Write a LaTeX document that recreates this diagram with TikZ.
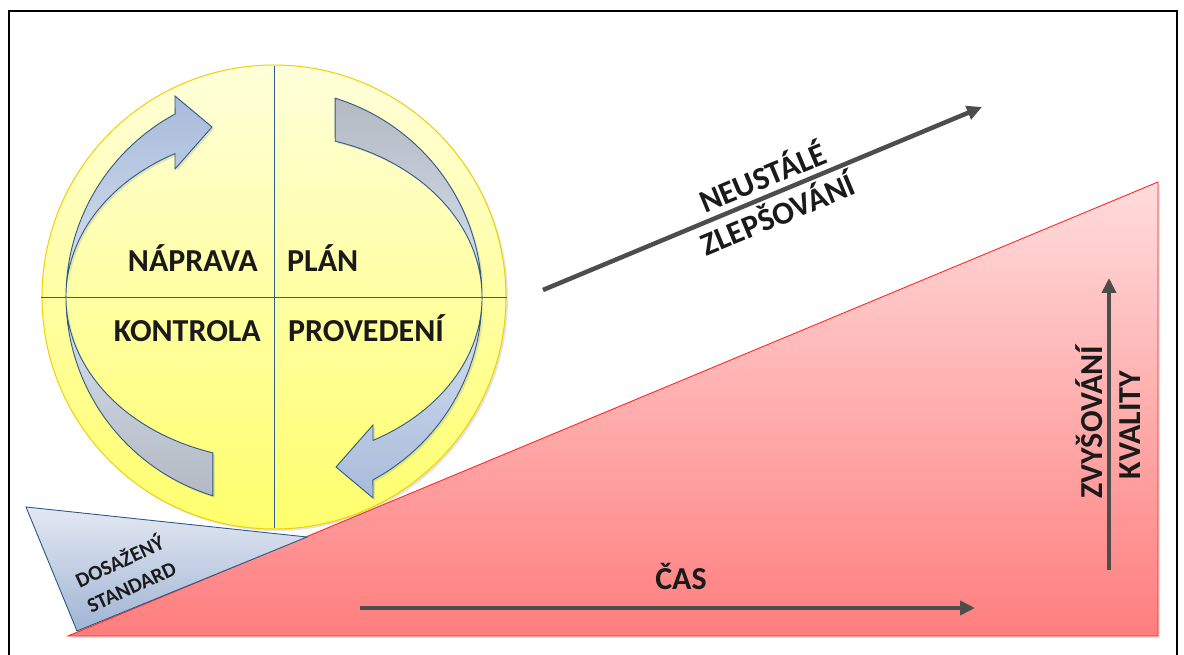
\documentclass[tikz,border=0pt]{standalone}
\usepackage{fontspec}
\setmainfont{Carlito}
\usepackage{tikz}
\usetikzlibrary{arrows.meta,shadows}
\definecolor{ctext}{HTML}{1A1A1A}
\definecolor{cgray}{HTML}{4D4D4D}
\definecolor{cline}{HTML}{2E5E8E}
\definecolor{cyellowtop}{HTML}{FFFFDA}
\definecolor{cyellowbot}{HTML}{FFFF6C}
\definecolor{cyellowedge}{HTML}{F0D000}
\definecolor{credtop}{HTML}{FFDCDC}
\definecolor{credbot}{HTML}{FF7E7E}
\definecolor{crededge}{HTML}{FF2828}
\definecolor{cblue}{HTML}{A8BBDA}
\definecolor{cbluelight}{HTML}{D8E2F1}
\definecolor{cgrayarrow}{HTML}{B4B9C2}
\definecolor{cbluetop}{HTML}{E4E9F3}
\definecolor{cbluebot}{HTML}{A0B4D4}
\definecolor{cblueedge}{HTML}{2C5A85}

\begin{document}
\begin{tikzpicture}[x=1pt,y=1pt,>={Triangle[length=15pt,width=14pt]},
  big label/.style={font=\fontsize{32}{39}\selectfont\bfseries,text=ctext,inner sep=0pt},
  small label/.style={font=\fontsize{21}{28}\selectfont\bfseries,text=ctext,inner sep=0pt,align=center},
  trend arrow/.style={->,line width=4.5pt,draw=cgray},
  cycle arrow/.style={draw=cblueedge,line width=0.9pt},
  soft shadow/.style={drop shadow={opacity=0.22,shadow xshift=2pt,shadow yshift=-2pt}}]
  \useasboundingbox (0,0) rectangle (1184,654);
  % frame
  \draw[line width=1.3pt] (9,-5) -- (9,643) -- (1177,643) -- (1177,-5);

  % rising slope
  \path[soft shadow,top color=credtop,bottom color=credbot,draw=crededge,line width=0.9pt]
    (68,18) -- (1158,18) -- (1158,472) -- cycle;

  % the wheel
  \coordinate (c) at (274,357);
  \path[soft shadow,top color=cyellowtop,bottom color=cyellowbot,draw=cyellowedge,line width=1pt]
    (c) circle[radius=232pt];
  \draw[cline,line width=0.9pt] (274,126) -- (274,588);
  \draw[cline,line width=0.9pt] (41,357) -- (507,357);

  \begin{scope}[shift={(274,357)}]
    % top left, with head
    \path[cycle arrow,top color=cblue,bottom color=cbluelight,soft shadow]
      (-208,0) arc[start angle=180,end angle=118.4,radius=208pt]
      -- (-99,201) -- (-62,170) -- (-99,128) -- (-99,143.4)
      arc[start angle=118.4,end angle=180,x radius=208pt,y radius=163pt] -- cycle;
    % bottom right, with head
    \path[cycle arrow,top color=cbluelight,bottom color=cblue,soft shadow]
      (208,0) arc[start angle=0,end angle=-61.6,radius=208pt]
      -- (99,-201) -- (62,-170) -- (99,-128) -- (99,-143.4)
      arc[start angle=-61.6,end angle=0,x radius=208pt,y radius=163pt] -- cycle;
    % top right, tail
    \path[cycle arrow,top color=cgrayarrow,bottom color=cbluelight,soft shadow]
      (208,0) arc[start angle=0,end angle=72.9,radius=208pt]
      -- (61.2,155.8)
      arc[start angle=72.9,end angle=0,x radius=208pt,y radius=163pt] -- cycle;
    % bottom left, tail
    \path[cycle arrow,top color=cbluelight,bottom color=cgrayarrow,soft shadow]
      (-208,0) arc[start angle=180,end angle=252.9,radius=208pt]
      -- (-61.2,-155.8)
      arc[start angle=252.9,end angle=180,x radius=208pt,y radius=163pt] -- cycle;
  \end{scope}

  \node[big label,anchor=base east] (naprava) at (258,382) {NÁPRAVA};
  \node[big label,anchor=base west] (plan) at (287,382) {PLÁN};
  \node[big label,anchor=base east] (kontrola) at (261,312) {KONTROLA};
  \node[big label,anchor=base west] (provedeni) at (288,312) {PROVEDENÍ};

  % achieved standard
  \path[top color=cbluetop,bottom color=cbluebot,draw=cblueedge,line width=0.9pt]
    (26,147) -- (307,117) -- (77,23) -- cycle;
  \node[small label,rotate=25] (standard) at (125,81) {DOSAŽENÝ\\STANDARD};

  % trends
  \coordinate (z1) at (543,364);
  \coordinate (z2) at (982,547);
  \draw[trend arrow] (z1) -- (z2);
  \node[big label,rotate=22.6,anchor=base] (neustale) at (767,466) {NEUSTÁLÉ};
  \node[big label,rotate=22.6,anchor=base] (zlepsovani) at (782,429) {ZLEPŠOVÁNÍ};

  \coordinate (t1) at (360,46);
  \coordinate (t2) at (975,46);
  \draw[trend arrow] (t1) -- (t2);
  \node[big label,anchor=base] (cas) at (681,65) {ČAS};

  \coordinate (k1) at (1109,84);
  \coordinate (k2) at (1109,376);
  \draw[trend arrow] (k1) -- (k2);
  \node[big label,rotate=90,anchor=base] (zvysovani) at (1102,232) {ZVYŠOVÁNÍ};
  \node[big label,rotate=90,anchor=base] (kvalita) at (1140,229) {KVALITY};
\end{tikzpicture}
\end{document}
